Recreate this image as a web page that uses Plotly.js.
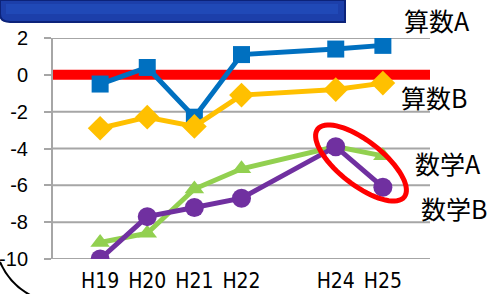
<!DOCTYPE html>
<html><head><meta charset="utf-8">
<script src="https://cdn.plot.ly/plotly-3.0.1.min.js"></script>
<style>html,body{margin:0;padding:0;background:#fff}#c{width:492px;height:294px}</style>
</head><body><div id="c"></div>
<script>
const categories = ['H19','H20','H21','H22','H23','H24','H25'];
const shownTicks = ['H19','H20','H21','H22','H24','H25'];
const sansuA  = [-0.5, 0.4, -2.3, 1.1, null, 1.4, 1.6];
const sansuB  = [-2.9, -2.3, -2.8, -1.1, null, -0.8, -0.45];
const sugakuA = [-9.1, -8.6, -6.2, -5.1, null, -3.9, -4.4];
const sugakuB = [-10, -7.7, -7.2, -6.7, null, -3.9, -6.1];
const seriesNames = ['算数A','算数B','数学A','数学B'];
const yTicks = [2,0,-2,-4,-6,-8,-10];
const yTickText = ['2','0','-2','-4','-6','-8','-10'];

const W=492,H=294,L=53,R=62,T=38,B=35;
const pw=W-L-R, ph=H-T-B;
const px=x=>(x-L)/pw, py=y=>(H-B-y)/ph;

function ellipsePath(cx,cy,a,b,ang){
  let d='';
  for(let i=0;i<=72;i++){
    const t=i/72*2*Math.PI;
    const ex=a*Math.cos(t), ey=b*Math.sin(t);
    const x=cx+ex*Math.cos(ang)-ey*Math.sin(ang);
    const y=cy+ex*Math.sin(ang)+ey*Math.cos(ang);
    d+=(i?'L':'M')+px(x).toFixed(4)+','+py(y).toFixed(4);
  }
  return d+'Z';
}

function tr(y,color,symbol,size){
  return {x:categories,y:y,type:'scatter',mode:'lines+markers',connectgaps:true,
    line:{color:color,width:5},marker:{symbol:symbol,size:size,color:color},hoverinfo:'none'};
}
const data=[
  tr(sansuA,'#0070c0','square',17),
  tr(sansuB,'#ffc000','diamond',19),
  tr(sugakuA,'#92d050','triangle-up',17),
  tr(sugakuB,'#7030a0','circle',19)
];

const lab=(t,x,y)=>({text:t,xref:'paper',yref:'paper',x:px(x),y:py(y),showarrow:false,
  xanchor:'center',yanchor:'middle',font:{family:'Noto Sans CJK JP',size:25,color:'#000'}});

const grid = yTicks.filter(v=>v!==0).map(v=>({type:'line',xref:'paper',yref:'y',x0:0,x1:1,y0:v,y1:v,
  line:{color:'#a6a6a6',width:2},layer:'below'}));

const layout={
  width:W,height:H,margin:{l:L,r:R,t:T,b:B},
  paper_bgcolor:'#fff',plot_bgcolor:'#fff',showlegend:false,
  font:{family:'Liberation Sans',color:'#000'},
  xaxis:{type:'category',range:[-1,7],tickvals:shownTicks,ticktext:shownTicks,
    showgrid:false,zeroline:false,showline:false,ticks:'',ticklabelstandoff:7,
    tickfont:{family:'DejaVu Sans Condensed, DejaVu Sans',size:21,color:'#000'}},
  yaxis:{range:[-10,2],tickvals:yTicks,ticktext:yTickText,showgrid:false,
    zeroline:false,showline:true,linecolor:'#a6a6a6',linewidth:2,ticks:'outside',ticklen:7,tickwidth:2,tickcolor:'#a6a6a6',
    ticklabelstandoff:12,tickfont:{family:'Liberation Sans',size:20,color:'#000'}},
  shapes:grid.concat([
    {type:'line',xref:'paper',yref:'y',x0:0,x1:1,y0:0,y1:0,line:{color:'#ff0000',width:10},layer:'below'},
    {type:'path',xref:'paper',yref:'paper',
     path:'M'+px(0)+','+py(0)+'L'+px(345)+','+py(0)+'L'+px(345)+','+py(22)+'L'+px(10)+','+py(22)+'Q'+px(0)+','+py(22)+' '+px(0)+','+py(14)+'Z',
     fillcolor:'#1c3faa',line:{color:'#0c237a',width:2},layer:'above'},
    {type:'rect',xref:'paper',yref:'paper',x0:px(6),x1:px(338),y0:py(4),y1:py(14),fillcolor:'#2350c0',line:{width:0},opacity:0.6},
    {type:'path',xref:'paper',yref:'paper',
     path:'M'+px(0)+','+py(262)+'Q'+px(10)+','+py(285)+' '+px(32)+','+py(296),
     line:{color:'#000',width:2}},
    {type:'path',xref:'paper',yref:'paper',path:ellipsePath(361,163,55,22,38*Math.PI/180),
     line:{color:'#ff0000',width:5}}
  ]),
  annotations:[lab(seriesNames[0],437,20),lab(seriesNames[1],434,97),lab(seriesNames[2],448,163),lab(seriesNames[3],454,208)]
};
Plotly.newPlot('c',data,layout,{staticPlot:true,displayModeBar:false});
</script></body></html>
